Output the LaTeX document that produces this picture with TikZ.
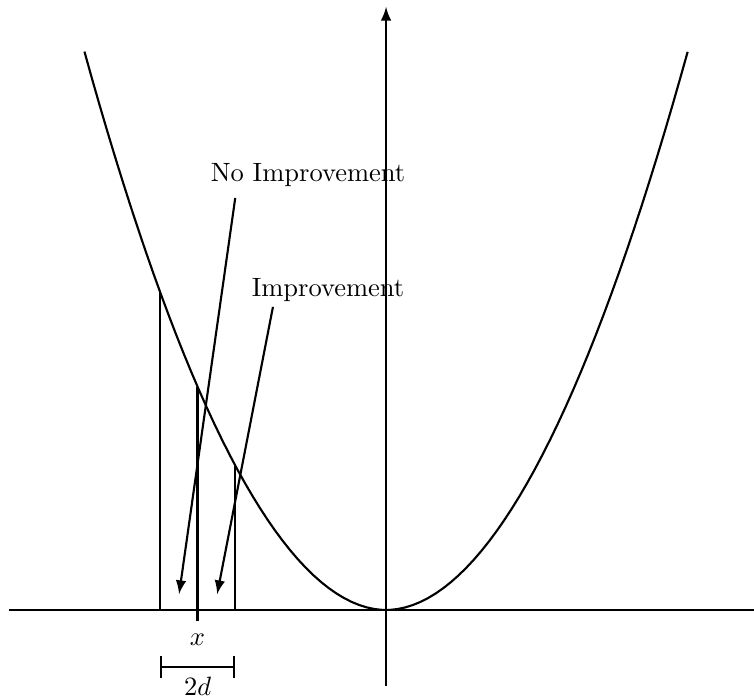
\documentclass[tikz,border=0pt]{standalone}
\usetikzlibrary{arrows,arrows.meta}
\begin{document}
\begin{tikzpicture}[x=0.5cm,y=0.5cm]

		\useasboundingbox (-10.24,-2.33) rectangle (9.76,16.18);

		% axes
		\coordinate (xl) at (-10,0);
		\coordinate (xr) at (9.8,0);
		\coordinate (yb) at (0,-2.02);
		\coordinate (yt) at (0,16);
		\draw [thick] (xl) -- (xr);
		\draw [thick,-latex] (yb) -- (yt);

		% curve
		\draw [thick] plot [domain=-8:8,samples=80] (\x,{0.2568*abs(\x)^1.95});

		\draw [thick] (-6,0) -- (-6,{0.2568*6^1.95});
		\draw [thick] (-5,-0.3) -- (-5,{0.2568*5^1.95});
		\draw [thick] (-4,0) -- (-4,{0.2568*4^1.95});

		\node (xlab) at (-5,-0.8) {$x$};
		\coordinate (dl) at (-6,-1.51);
		\coordinate (dr) at (-4,-1.51);
		\draw [thick,{Bar[width=8pt]}-{Bar[width=8pt]}] (dl) -- (dr);
		\node (dlab) at (-5,-2.02) {$2d$};

		\node (noimp) at (-2.07,11.54) {No Improvement};
		\node (imp) at (-1.54,8.49) {Improvement};
		\coordinate (noimpa) at (-4.0,10.93);
		\coordinate (noimpb) at (-5.49,0.42);
		\coordinate (impa) at (-3.0,8.04);
		\coordinate (impb) at (-4.48,0.42);
		\draw [thick,-latex] (noimpa) -- (noimpb);
		\draw [thick,-latex] (impa) -- (impb);

		\end{tikzpicture}
\end{document}
